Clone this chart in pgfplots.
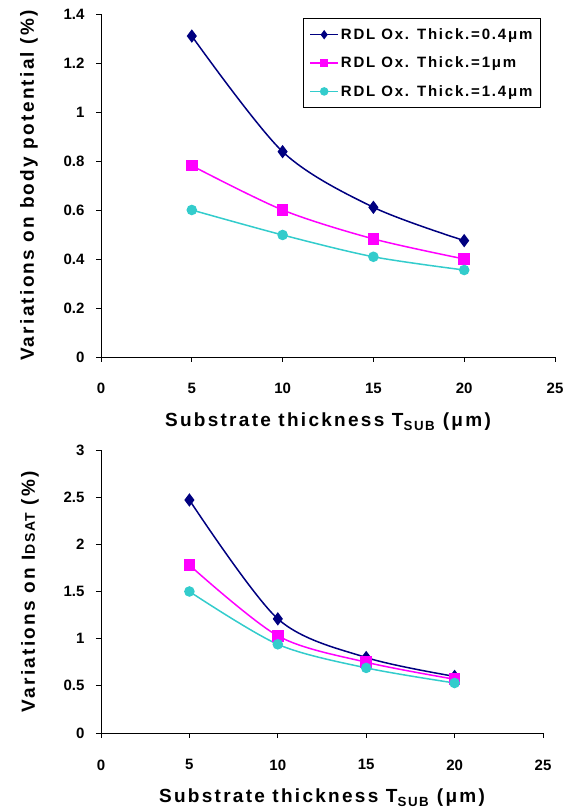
\documentclass[border=0pt]{standalone}
\usepackage{pgfplots}
\pgfplotsset{compat=1.18}
\usepackage{fontspec}
\setmainfont{Liberation Sans}
\newfontfamily\lsfont[LetterSpace=12]{Liberation Sans}
\definecolor{navyc}{RGB}{0,0,128}
\definecolor{magc}{RGB}{255,0,255}
\definecolor{turc}{RGB}{51,204,204}
\pgfplotsset{
  common/.style={
    scale only axis,
    axis x line*=bottom,
    axis y line*=left,
    hide obscured x ticks=false,
    hide obscured y ticks=false,
    xmin=0, xmax=25, xtick={0,5,...,25},
    xticklabels={0,5,10,15,20,25},
    ymin=0,
    tick align=outside,
    major tick length=5pt,
    /pgf/number format/assume math mode=true,
    ticklabel style={font=\fontsize{15}{15}\selectfont\bfseries},
    xticklabel style={yshift=-18pt},
    yticklabel style={xshift=-8pt},
    xlabel style={font=\lsfont\fontsize{19}{19}\selectfont\bfseries},
    ylabel style={font=\lsfont\fontsize{19}{19}\selectfont\bfseries},
    axis line style={line width=0.9pt},
    every tick/.style={line width=0.9pt, black},
    clip=false,
    legend image code/.code={
      \draw[mark repeat=2, mark phase=2, #1, mark size=3.5pt] plot coordinates {(0pt,0pt) (14pt,0pt) (28pt,0pt)};
    },
  },
  s1/.style={color=navyc, line width=1.5pt, smooth, tension=0.5, mark=diamond*, mark size=5.5pt},
  s2/.style={color=magc, line width=1.5pt, smooth, tension=0.5, mark=square*, mark size=5pt},
  s3/.style={color=turc, line width=1.5pt, smooth, tension=0.5, mark=*, mark size=4.5pt},
}
\begin{document}
\begin{tikzpicture}[x=1pt,y=1pt]
\path[use as bounding box] (0,0) rectangle (573,810);
% top axis
\begin{axis}[common,
  at={(101pt,453pt)}, anchor=south west,
  width=454pt, height=343pt,
  ymax=1.4, ytick={0,0.2,...,1.4},
  yticklabels={0,0.2,0.4,0.6,0.8,1,1.2,1.4},
  xlabel={Substrate thickness T\textsubscript{SUB} (μm)},
  xlabel style={at={(axis description cs:0.5,0)}, anchor=center, yshift=-65pt},
  ylabel={Variations on body potential (\%)},
  ylabel style={at={(axis description cs:0,0.5)}, anchor=center, yshift=72pt},
  legend style={at={(rel axis cs:0.445,0.988)}, anchor=north west,
    font=\lsfont\fontsize{15}{15}\selectfont\bfseries, draw=black, line width=0.8pt,
    row sep=12pt, inner xsep=6pt, inner ysep=8pt},
  legend cell align=left,
]
\addplot[s1] coordinates {(5,1.31) (10,0.838) (15,0.611) (20,0.475)};
\addlegendentry{RDL Ox. Thick.=0.4μm}
\addplot[s2] coordinates {(5,0.781) (10,0.600) (15,0.482) (20,0.400)};
\addlegendentry{RDL Ox. Thick.=1μm}
\addplot[s3] coordinates {(5,0.600) (10,0.498) (15,0.409) (20,0.355)};
\addlegendentry{RDL Ox. Thick.=1.4μm}
\end{axis}
% bottom axis
\begin{axis}[common,
  at={(101pt,77pt)}, anchor=south west,
  width=442pt, height=283pt,
  ymax=3, ytick={0,0.5,...,3},
  yticklabels={0,0.5,1,1.5,2,2.5,3},
  xlabel={Substrate thickness T\textsubscript{SUB} (μm)},
  xlabel style={at={(axis description cs:0.5,0)}, anchor=center, yshift=-65pt},
  ylabel={Variations on I{\fontsize{14}{14}\selectfont DSAT} (\%)},
  ylabel style={at={(axis description cs:0,0.5)}, anchor=center, yshift=71pt},
]
\addplot[s1] coordinates {(5,2.47) (10,1.21) (15,0.80) (20,0.60)};
\addplot[s2] coordinates {(5,1.78) (10,1.03) (15,0.75) (20,0.57)};
\addplot[s3] coordinates {(5,1.50) (10,0.94) (15,0.69) (20,0.53)};
\end{axis}
\end{tikzpicture}
\end{document}
